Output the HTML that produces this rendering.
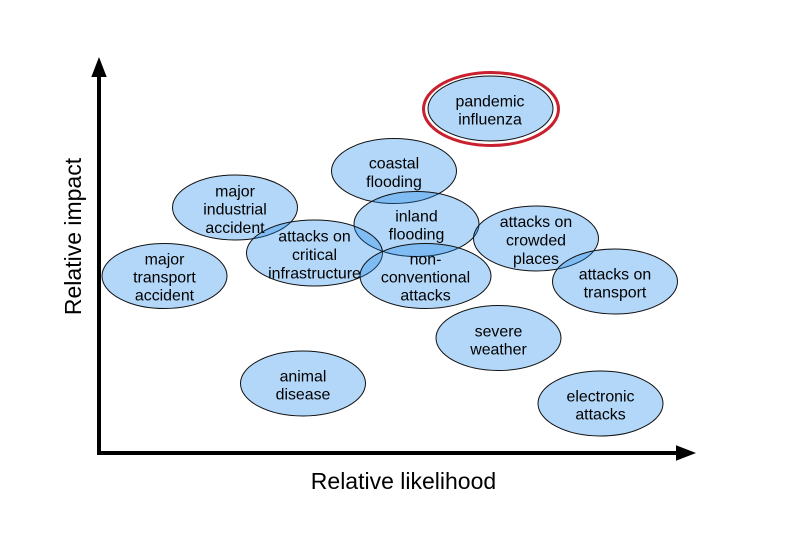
<!DOCTYPE html>
<html><head><meta charset="utf-8"><style>
html,body{margin:0;padding:0;background:#fff;width:805px;height:536px;overflow:hidden}
svg{display:block}
text{font-family:"Liberation Sans",Arial,sans-serif;fill:#000}
.n{font-size:15.9px;text-anchor:middle}
.a{font-size:23px;text-anchor:middle}
ellipse.e{fill:rgb(18,130,233);fill-opacity:.32;stroke:#111;stroke-width:1}
</style></head><body>
<svg width="805" height="536" viewBox="0 0 805 536" xmlns="http://www.w3.org/2000/svg">
<rect width="805" height="536" fill="#fff"/>
<ellipse cx="491" cy="109" rx="67.5" ry="36.5" fill="none" stroke="#c8202e" stroke-width="3"/>
<ellipse class="e" cx="490.5" cy="108.5" rx="62.5" ry="32.5"/>
<ellipse class="e" cx="394" cy="171" rx="62.5" ry="32.5"/>
<ellipse class="e" cx="235" cy="207.5" rx="62.5" ry="32.5"/>
<ellipse class="e" cx="416.5" cy="224" rx="62.5" ry="32.5"/>
<ellipse class="e" cx="314.5" cy="253" rx="68" ry="33"/>
<ellipse class="e" cx="425.5" cy="276" rx="65.5" ry="32.5"/>
<ellipse class="e" cx="164.5" cy="276" rx="62.5" ry="32.5"/>
<ellipse class="e" cx="536" cy="238.5" rx="62.5" ry="32.5"/>
<ellipse class="e" cx="615" cy="281.5" rx="62.5" ry="32.5"/>
<ellipse class="e" cx="498.5" cy="338" rx="62.5" ry="32.5"/>
<ellipse class="e" cx="303" cy="383.5" rx="62.5" ry="32.5"/>
<ellipse class="e" cx="600.5" cy="403.5" rx="62.5" ry="32.5"/>

<path d="M99 76V453H677" fill="none" stroke="#000" stroke-width="4"/>
<path d="M99 57L106.700 77H91.300Z M696 453L676 445.300V460.700Z" fill="#000"/>

<text class="n" x="490" y="106.500">pandemic</text><text class="n" x="490" y="124.500">influenza</text>
<text class="n" x="394" y="168.500">coastal</text><text class="n" x="394" y="187">flooding</text>
<text class="n" x="235" y="196.500">major</text><text class="n" x="235" y="214.500">industrial</text><text class="n" x="235" y="233">accident</text>
<text class="n" x="416.500" y="221.500">inland</text><text class="n" x="416.500" y="239.500">flooding</text>
<text class="n" x="314.500" y="241.500">attacks on</text><text class="n" x="314.500" y="260">critical</text><text class="n" x="314.500" y="278.500">infrastructure</text>
<text class="n" x="425.500" y="264.500">non-</text><text class="n" x="425.500" y="282.500">conventional</text><text class="n" x="425.500" y="300.500">attacks</text>
<text class="n" x="164.500" y="264.500">major</text><text class="n" x="164.500" y="282.500">transport</text><text class="n" x="164.500" y="300.500">accident</text>
<text class="n" x="536" y="227">attacks on</text><text class="n" x="536" y="245.500">crowded</text><text class="n" x="536" y="264">places</text>
<text class="n" x="615" y="279.500">attacks on</text><text class="n" x="615" y="297.500">transport</text>
<text class="n" x="498.500" y="336.500">severe</text><text class="n" x="498.500" y="354.500">weather</text>
<text class="n" x="303" y="381.500">animal</text><text class="n" x="303" y="399.500">disease</text>
<text class="n" x="600.500" y="401.500">electronic</text><text class="n" x="600.500" y="419.500">attacks</text>

<text class="a" x="403.500" y="489">Relative likelihood</text>
<text class="a" x="0" y="0" transform="translate(81,236.500) rotate(-90)">Relative impact</text>
</svg>
</body></html>
